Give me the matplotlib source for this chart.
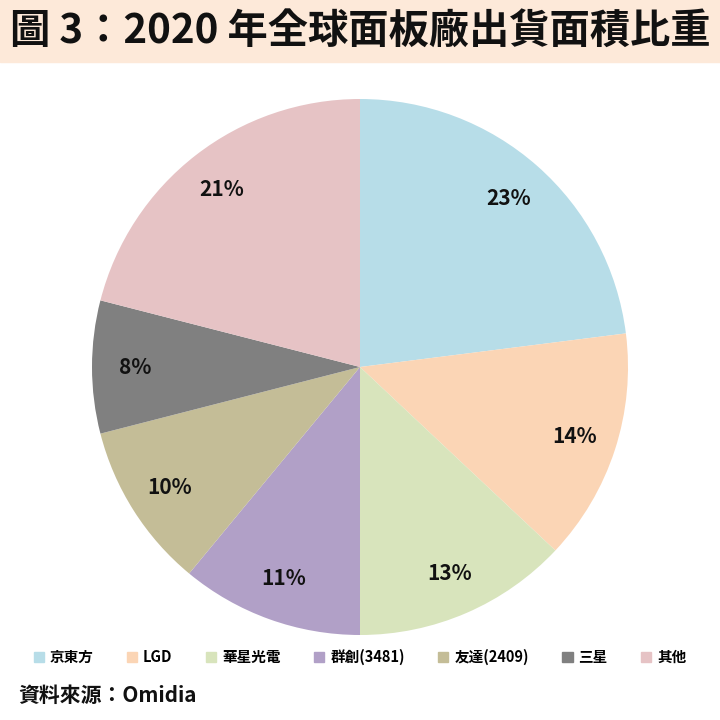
import matplotlib
matplotlib.use("Agg")
import matplotlib.pyplot as plt
from matplotlib.patches import Rectangle
import numpy as np

labels = ["京東方", "LGD", "華星光電", "群創(3481)", "友達(2409)", "三星", "其他"]
values = [23, 14, 13, 11, 10, 8, 21]
colors = ["#b7dde8", "#fbd5b5", "#d8e4bc", "#b1a0c7", "#c4bd97", "#808080", "#e6c3c5"]

plt.rcParams["font.family"] = ["Noto Sans CJK TC", "Noto Sans CJK JP", "Noto Sans CJK SC", "DejaVu Sans"]
fig = plt.figure(figsize=(7.2, 7.2), dpi=100)
fig.patches.append(Rectangle((0, 1 - 62/720), 1, 62/720, transform=fig.transFigure,
                             color="#fde9d9", zorder=0))
fig.text(0.5, 1 - 31/720, "圖 3：2020 年全球面板廠出貨面積比重", ha="center", va="center",
         fontsize=29, fontweight="bold", color="#111111")

ax = fig.add_axes([(360-268)/720, 1-(367+268)/720, 536/720, 536/720])
ax.pie(values, colors=colors, startangle=90, counterclock=False)
ang = 90
for v in values:
    mid = np.deg2rad(ang - v*3.6/2)
    ang -= v*3.6
    ax.text(0.84*np.cos(mid), 0.84*np.sin(mid), f"{v}%", ha="center", va="center",
            fontsize=15, fontweight="bold", color="#111111")
ax.set_xlim(-1, 1); ax.set_ylim(-1, 1)
ax.set_aspect("equal")

handles = [Rectangle((0, 0), 1, 1, color=c) for c in colors]
fig.legend(handles, labels, loc="center", bbox_to_anchor=(0.5, 1 - 657/720), ncol=7,
           frameon=False, handlelength=0.7, handleheight=0.7,
           columnspacing=2.3, handletextpad=0.4, prop={"weight": "bold", "size": 10.5})
fig.text(18/720, 1 - 695/720, "資料來源：Omidia", ha="left", va="center",
         fontsize=15, fontweight="bold", color="#111111")
fig.savefig("out.png", dpi=100, facecolor="white")
